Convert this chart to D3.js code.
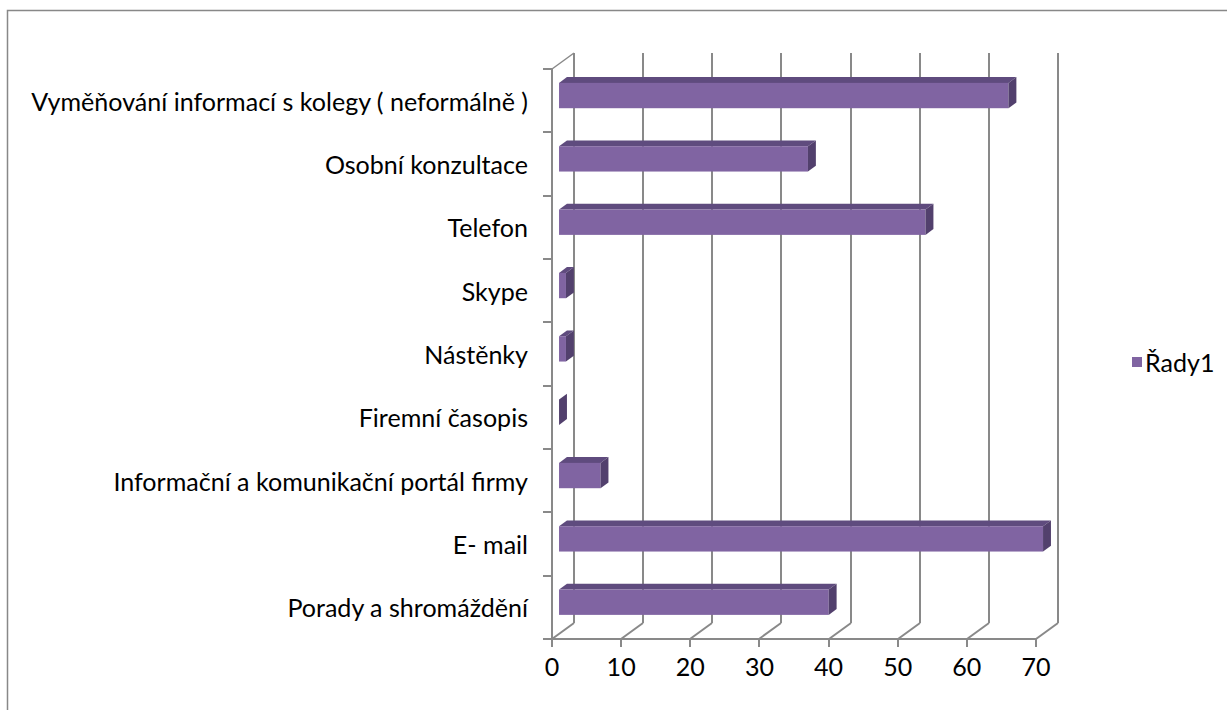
<!DOCTYPE html>
<html>
<head>
<meta charset="utf-8">
<script src="https://cdn.jsdelivr.net/npm/d3@7"></script>
<style>
  html, body { margin: 0; padding: 0; background: #fff; }
  svg { display: block; }
  text { font-family: Lato, "Open Sans", sans-serif; font-weight: 400; fill: #000; }
</style>
</head>
<body>
<svg id="chart" width="1227" height="710"></svg>
<script>
// Communication channels (top to bottom) and respondent counts
const categories = [
  "Vyměňování informací s kolegy ( neformálně )",
  "Osobní konzultace",
  "Telefon",
  "Skype",
  "Nástěnky",
  "Firemní časopis",
  "Informační a komunikační portál firmy",
  "E- mail",
  "Porady a shromáždění"
];
const values = [65, 36, 53, 1, 1, 0, 6, 70, 39];
const xTickValues = [0, 10, 20, 30, 40, 50, 60, 70];
const seriesName = "Řady1";

const svg = d3.select("#chart");

// Plot geometry: front plane of the 3D box plus an oblique depth vector
const plot = { left: 552, right: 1036, top: 69, bottom: 639 };
const depth = { dx: 22, dy: -16 };
const gridColor = "#898989";

const x = d3.scaleLinear().domain([0, 70]).range([plot.left, plot.right]);
const y = d3.scaleBand().domain(categories).range([plot.top, plot.bottom]).padding(0);
const r = Math.round;

// Outer chart border (only top and left edges fall inside the view)
svg.append("rect")
  .attr("x", 7.5).attr("y", 10.5)
  .attr("width", 1240).attr("height", 720)
  .attr("fill", "none").attr("stroke", "#888").attr("stroke-width", 1.5);

const walls = svg.append("g").attr("fill", "none").attr("stroke", gridColor).attr("stroke-width", 2);

// Back-wall gridlines and their floor diagonals
xTickValues.forEach(v => {
  const fx = r(x(v)), bx = r(x(v) + depth.dx);
  walls.append("line")
    .attr("x1", bx).attr("y1", plot.bottom + depth.dy)
    .attr("x2", bx).attr("y2", plot.top + depth.dy);
  walls.append("line")
    .attr("x1", fx).attr("y1", plot.bottom)
    .attr("x2", bx).attr("y2", plot.bottom + depth.dy);
});

// Left wall: vertical axis line and top edge
walls.append("line")
  .attr("x1", plot.left).attr("y1", plot.top)
  .attr("x2", plot.left).attr("y2", plot.bottom);
walls.append("line")
  .attr("x1", plot.left).attr("y1", plot.top)
  .attr("x2", plot.left + depth.dx).attr("y2", plot.top + depth.dy)
  .attr("stroke-width", 1.5);

// Floor front edge (value axis)
walls.append("line")
  .attr("x1", plot.left).attr("y1", plot.bottom)
  .attr("x2", plot.right).attr("y2", plot.bottom);

// Category tick marks
const boundaries = categories.map(c => y(c)).concat([plot.bottom]);
boundaries.forEach(by => {
  walls.append("line")
    .attr("x1", plot.left - 9).attr("y1", r(by))
    .attr("x2", plot.left).attr("y2", r(by));
});

// Value tick marks
xTickValues.forEach(v => {
  walls.append("line")
    .attr("x1", r(x(v))).attr("y1", plot.bottom)
    .attr("x2", r(x(v))).attr("y2", plot.bottom + 8);
});

// 3D bars: front face, top face and right side face
const barFrac = 1 / 2.5;               // gap width 150%
const t0 = 0.32, t1 = 0.68;            // bar depth span within the box
const colors = { front: "#8064a2", top: "#5f4b7e", side: "#52406d" };

const bars = svg.append("g");
categories.forEach((c, i) => {
  const v = values[i];
  const h = y.bandwidth() * barFrac;
  const cy = y(c) + y.bandwidth() / 2 + depth.dy * t0;
  const fx0 = x(0) + depth.dx * t0;
  const fx1 = x(v) + depth.dx * t0;
  const fy0 = cy - h / 2, fy1 = cy + h / 2;
  const ddx = depth.dx * (t1 - t0), ddy = depth.dy * (t1 - t0);
  const g = bars.append("g");
  // top face
  g.append("path")
    .attr("d", `M${fx0},${fy0} L${fx0 + ddx},${fy0 + ddy} L${fx1 + ddx},${fy0 + ddy} L${fx1},${fy0} Z`)
    .attr("fill", colors.top);
  // front face
  g.append("rect")
    .attr("x", fx0).attr("y", fy0)
    .attr("width", fx1 - fx0).attr("height", h)
    .attr("fill", colors.front);
  // right side face
  g.append("path")
    .attr("d", `M${fx1},${fy0} L${fx1 + ddx},${fy0 + ddy} L${fx1 + ddx},${fy1 + ddy} L${fx1},${fy1} Z`)
    .attr("fill", colors.side);
});

// Category labels
const catLabels = svg.append("g").selectAll("text")
  .data(categories).join("text")
  .attr("x", 528)
  .attr("y", d => y(d) + y.bandwidth() / 2)
  .attr("text-anchor", "end")
  .attr("dominant-baseline", "central")
  .style("font-size", "20px")
  .text(d => d);

// Fit the label column width
const widest = d3.max(catLabels.nodes(), n => n.getComputedTextLength());
const fontSize = 20 * 497 / widest;
catLabels.style("font-size", fontSize + "px");

// Value tick labels
svg.append("g").selectAll("text")
  .data(xTickValues).join("text")
  .attr("x", d => x(d))
  .attr("y", 666)
  .attr("text-anchor", "middle")
  .attr("dominant-baseline", "central")
  .style("font-size", fontSize + "px")
  .text(d => d);

// Legend
svg.append("rect")
  .attr("x", 1132).attr("y", 357).attr("width", 10).attr("height", 10)
  .attr("fill", colors.front);
svg.append("text")
  .attr("x", 1145).attr("y", 362)
  .attr("dominant-baseline", "central")
  .style("font-size", fontSize + "px")
  .text(seriesName);
</script>
</body>
</html>
